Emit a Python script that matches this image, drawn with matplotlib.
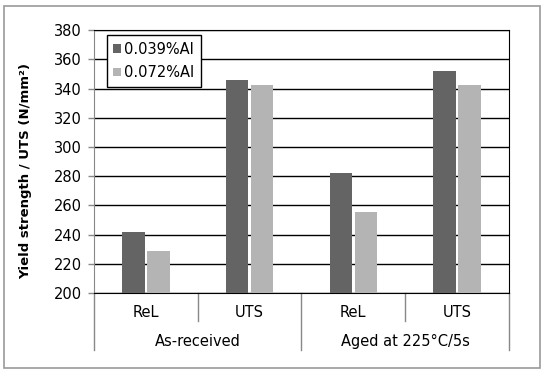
import matplotlib.pyplot as plt
from matplotlib.patches import Rectangle
from matplotlib.transforms import blended_transform_factory
import numpy as np

# data
categories = ['ReL', 'UTS', 'ReL', 'UTS']
groups = ['As-received', 'Aged at 225°C/5s']
al_039 = [242, 346, 282, 352]
al_072 = [229, 342.5, 255.5, 342.5]
series_names = ['0.039%Al', '0.072%Al']
yticks = list(range(200, 381, 20))

dark = '#646464'
light = '#b4b4b4'

fig = plt.figure(figsize=(5.5, 3.76), dpi=100)
ax = fig.add_axes([0.171, 0.2207, 0.754, 0.699])

x = np.arange(len(categories))
w = 0.215
gap = 0.013
ax.bar(x - w / 2 - gap, al_039, width=w, color=dark, label=series_names[0], zorder=3)
ax.bar(x + w / 2 + gap, al_072, width=w, color=light, label=series_names[1], zorder=3)

ax.set_xlim(-0.5, 3.5)
ax.set_ylim(200, 380)
ax.set_yticks(yticks)
ax.tick_params(axis='y', labelsize=10.5, length=4, width=1, color='#888888', pad=5)
ax.set_xticks([])
ax.grid(axis='y', color='black', linewidth=1, zorder=1)
ax.set_axisbelow(True)
for side in ['top', 'right', 'bottom']:
    ax.spines[side].set_color('black')
ax.spines['left'].set_color('#888888')

ax.set_ylabel('Yield strength / UTS (N/mm²)', fontsize=9.5, fontweight='bold')
ax.yaxis.set_label_coords(-0.15, 0.464)

# category labels and separators below the axis
tr = blended_transform_factory(ax.transData, ax.transAxes)
for i, c in enumerate(categories):
    ax.text(i, -0.075, c, transform=tr, ha='center', va='center', fontsize=10.5)
for xs in [0.5, 2.5]:
    ax.plot([xs, xs], [0, -0.105], transform=tr, color='#888888', lw=1, clip_on=False)
for xs in [-0.5, 1.5, 3.5]:
    ax.plot([xs, xs], [0, -0.215], transform=tr, color='#888888', lw=1, clip_on=False)
for g, gx in zip(groups, [0.5, 2.5]):
    ax.text(gx, -0.185, g, transform=tr, ha='center', va='center', fontsize=10.5)

leg = ax.legend(loc='upper left', bbox_to_anchor=(0.031, 0.981), fontsize=10.5,
                frameon=True, fancybox=False, framealpha=1, edgecolor='black',
                handlelength=0.5, handleheight=0.5, handletextpad=0.25,
                borderpad=0.45, labelspacing=0.6, borderaxespad=0)
leg.get_frame().set_linewidth(1)

# outer chart border
fig.patches.append(Rectangle((4 / 550, 8 / 376), 536 / 550, 362 / 376,
                             transform=fig.transFigure, fill=False,
                             edgecolor='#999999', linewidth=1.2))

fig.savefig('out.png', dpi=100)
